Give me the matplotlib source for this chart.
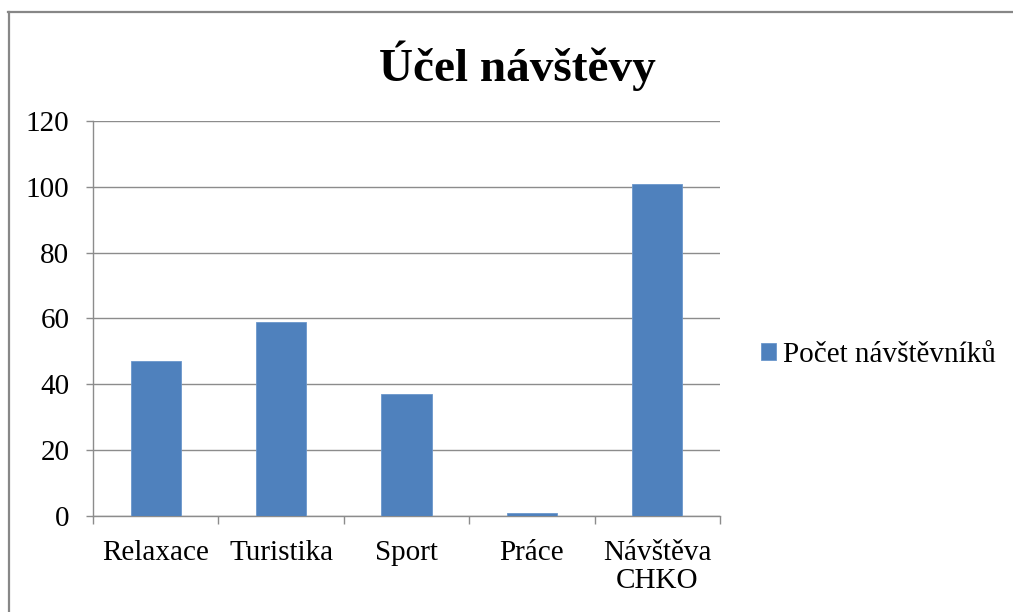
import numpy as np
import matplotlib
matplotlib.use('Agg')
import matplotlib.pyplot as plt
from matplotlib.patches import Patch
from matplotlib.lines import Line2D

categories = ['Relaxace', 'Turistika', 'Sport', 'Práce', 'Návštěva\nCHKO']
visitors = [47, 59, 37, 1, 101]
series_name = 'Počet návštěvníků'
title = 'Účel návštěvy'
yticks = [0, 20, 40, 60, 80, 100, 120]

plt.rcParams['font.family'] = ['Liberation Serif', 'DejaVu Serif']
bar_color = '#4F81BD'
grid_color = '#8c8c8c'

fig = plt.figure(figsize=(10.13, 6.12), dpi=100)
ax = fig.add_axes([0.0918, 0.1569, 0.7108 - 0.0918, 0.8023 - 0.1569])

x = np.arange(len(categories))
ax.bar(x, visitors, width=0.4, color=bar_color, edgecolor='#6b97cc', linewidth=0.6, zorder=3)

ax.set_xlim(-0.5, len(categories) - 0.5)
ax.set_ylim(0, 120)
ax.set_yticks(yticks)
ax.yaxis.grid(True, color=grid_color, linewidth=1.0, zorder=0)

# category labels centred, tick marks between categories
ax.set_xticks(x)
ax.set_xticklabels(categories)
ax.set_xticks(np.arange(len(categories) + 1) - 0.5, minor=True)
ax.tick_params(axis='x', which='major', length=0, pad=17, labelsize=21)
ax.tick_params(axis='x', which='minor', length=6, width=1, color=grid_color, direction='out')
ax.tick_params(axis='y', length=5, width=1, color=grid_color, pad=12, labelsize=21)
for lab in ax.get_xticklabels():
    lab.set_linespacing(1.12)

for side in ['top', 'right']:
    ax.spines[side].set_visible(False)
for side in ['left', 'bottom']:
    ax.spines[side].set_color(grid_color)
    ax.spines[side].set_linewidth(1.0)

fig.text(0.511, 0.868, title, ha='center', va='baseline', fontsize=34, fontweight='bold')

handle = Patch(facecolor=bar_color, edgecolor='#6b97cc', linewidth=0.6)
fig.legend([handle], [series_name], loc='center left', bbox_to_anchor=(0.7512, 0.42),
           frameon=False, fontsize=21, handlelength=0.52, handleheight=0.52,
           handletextpad=0.25, borderpad=0, borderaxespad=0)

# chart area border (top and left visible)
fig.add_artist(Line2D([0.008, 1.0], [0.981, 0.981], transform=fig.transFigure, color='#878787', linewidth=1.6))
fig.add_artist(Line2D([0.0089, 0.0089], [0.0, 0.981], transform=fig.transFigure, color='#878787', linewidth=1.6))

fig.savefig('out.png', dpi=100)
